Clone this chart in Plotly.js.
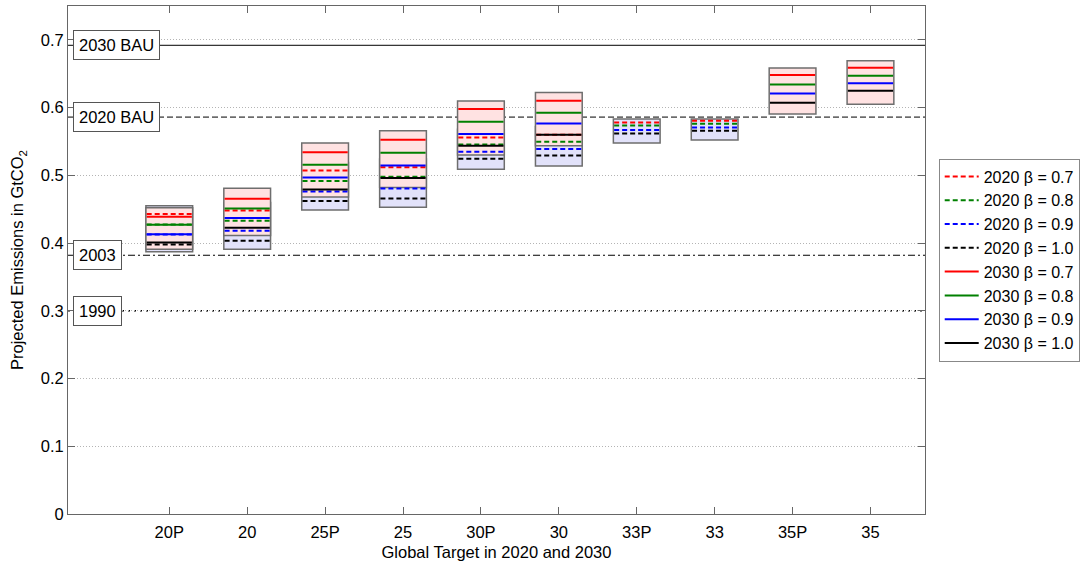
<!DOCTYPE html>
<html>
<head>
<meta charset="utf-8">
<script src="https://cdn.plot.ly/plotly-3.0.1.min.js"></script>
<style>
  html, body { margin: 0; padding: 0; background: #fff; }
  #plot { width: 1086px; height: 566px; }
</style>
</head>
<body>
<div id="plot"></div>
<script>
const categories = ["20P", "20", "25P", "25", "30P", "30", "33P", "33", "35P", "35"]

// 2020 projections (dashed), one array per beta
const y2020_b07 = [0.443, 0.448, 0.507, 0.512, 0.556, 0.560, 0.578, 0.5805, null, null]
const y2020_b08 = [0.4275, 0.433, 0.4915, 0.498, 0.5456, 0.5495, 0.5736, 0.576, null, null]
const y2020_b09 = [0.4125, 0.418, 0.4762, 0.4806, 0.535, 0.5387, 0.5668, 0.5706, null, null]
const y2020_b10 = [0.398, 0.4034, 0.462, 0.4658, 0.5244, 0.5293, 0.5618, 0.5658, null, null]

// 2030 projections (solid)
const y2030_b07 = [0.439, 0.4654, 0.534, 0.5525, 0.598, 0.610, null, null, 0.648, 0.6588]
const y2030_b08 = [0.427, 0.451, 0.5156, 0.5333, 0.579, 0.5923, null, null, 0.634, 0.647]
const y2030_b09 = [0.413, 0.437, 0.4968, 0.5146, 0.561, 0.5766, null, null, 0.6208, 0.636]
const y2030_b10 = [0.401, 0.4226, 0.479, 0.496, 0.5436, 0.560, null, null, 0.607, 0.6248]

// range boxes
const box2020_lo = [0.387, 0.391, 0.449, 0.453, 0.509, 0.5136, 0.5476, 0.552, null, null]
const box2020_hi = [0.455, 0.460, 0.519, 0.524, 0.568, 0.572, 0.583, 0.583, null, null]
const box2030_lo = [0.391, 0.411, 0.468, 0.482, 0.530, 0.5436, null, null, 0.5904, 0.605]
const box2030_hi = [0.452, 0.481, 0.5476, 0.5658, 0.6096, 0.6223, null, null, 0.6583, 0.669]

// reference levels
const refLabels = ["2030 BAU", "2020 BAU", "2003", "1990"]
const refValues = [0.692, 0.586, 0.382, 0.300]

const FONT = "Liberation Sans, Arial, Helvetica, sans-serif"
const BOX_W = 0.6
const xs = categories.map((c, i) => i + 1)

function boxTrace(lo, hi, fill) {
  return {
    type: "bar",
    x: xs,
    base: lo,
    y: lo.map((v, i) => (v == null || hi[i] == null) ? null : hi[i] - v),
    width: BOX_W,
    marker: { color: fill, line: { color: "#6e6e6e", width: 1.5 } },
    showlegend: false,
    hoverinfo: "skip"
  }
}

function segTrace(name, vals, color, dash) {
  const x = [], y = []
  const hw = BOX_W / 2 - 0.01
  vals.forEach((v, i) => {
    if (v == null) return
    x.push(xs[i] - hw, xs[i] + hw, null)
    y.push(v, v, null)
  })
  return {
    type: "scatter",
    mode: "lines",
    name: name,
    x: x,
    y: y,
    line: { color: color, width: 2, dash: dash },
    connectgaps: false
  }
}

const DASH = "5px,3px"
const data = [
  boxTrace(box2020_lo, box2020_hi, "rgb(226,226,250)"),
  boxTrace(box2030_lo, box2030_hi, "rgb(255,226,226)"),
  segTrace("2020 \u03b2 = 0.7", y2020_b07, "#ff0000", DASH),
  segTrace("2020 \u03b2 = 0.8", y2020_b08, "#008000", DASH),
  segTrace("2020 \u03b2 = 0.9", y2020_b09, "#0000ff", DASH),
  segTrace("2020 \u03b2 = 1.0", y2020_b10, "#000000", DASH),
  segTrace("2030 \u03b2 = 0.7", y2030_b07, "#ff0000", "solid"),
  segTrace("2030 \u03b2 = 0.8", y2030_b08, "#008000", "solid"),
  segTrace("2030 \u03b2 = 0.9", y2030_b09, "#0000ff", "solid"),
  segTrace("2030 \u03b2 = 1.0", y2030_b10, "#000000", "solid")
]

const refDash = ["solid", "6px,3px", "7px,3px,2px,3px", "2px,4px"]
const refWidth = [1, 1, 1, 1.5]

const layout = {
  width: 1086,
  height: 566,
  margin: { l: 68, r: 161, t: 6, b: 52, pad: 0 },
  paper_bgcolor: "#ffffff",
  plot_bgcolor: "#ffffff",
  font: { family: FONT, size: 16, color: "#000" },
  barmode: "overlay",
  showlegend: true,
  legend: {
    x: 1.016,
    xanchor: "left",
    y: 0.5,
    yanchor: "middle",
    bordercolor: "#888",
    borderwidth: 1,
    bgcolor: "#fff",
    itemwidth: 34,
    font: { family: FONT, size: 16 }
  },
  xaxis: {
    range: [-0.3, categories.length + 0.7],
    tickvals: xs,
    ticktext: categories,
    ticks: "inside",
    ticklen: 7,
    tickcolor: "#666",
    showline: true,
    linecolor: "#666",
    mirror: "ticks",
    showgrid: false,
    zeroline: false,
    ticklabelstandoff: 3,
    tickfont: { size: 16.5 },
    title: { text: "Global Target in 2020 and 2030", font: { size: 16.5 }, standoff: 6 }
  },
  yaxis: {
    range: [0, 0.75],
    dtick: 0.1,
    tick0: 0,
    ticks: "inside",
    ticklen: 7,
    tickcolor: "#666",
    showline: true,
    linecolor: "#666",
    mirror: "ticks",
    showgrid: true,
    gridcolor: "#b4b4b4",
    griddash: "1px,2px",
    zeroline: false,
    tickfont: { size: 16.5 },
    title: { text: "Projected Emissions in GtCO<sub>2</sub>", font: { size: 16.5 }, standoff: 12 }
  },
  shapes: refValues.map((v, i) => ({
    type: "line",
    xref: "paper",
    yref: "y",
    x0: 0,
    x1: 1,
    y0: v,
    y1: v,
    layer: "below",
    line: { color: "#000", width: refWidth[i], dash: refDash[i] }
  })),
  annotations: refValues.map((v, i) => ({
    xref: "paper",
    yref: "y",
    x: 0.006,
    xanchor: "left",
    y: v,
    yanchor: "middle",
    text: refLabels[i],
    showarrow: false,
    bgcolor: "#fff",
    bordercolor: "#555",
    borderwidth: 1,
    borderpad: 5,
    font: { family: FONT, size: 16.5, color: "#000" }
  }))
}

Plotly.newPlot("plot", data, layout, { displayModeBar: false, staticPlot: true })
</script>
</body>
</html>
